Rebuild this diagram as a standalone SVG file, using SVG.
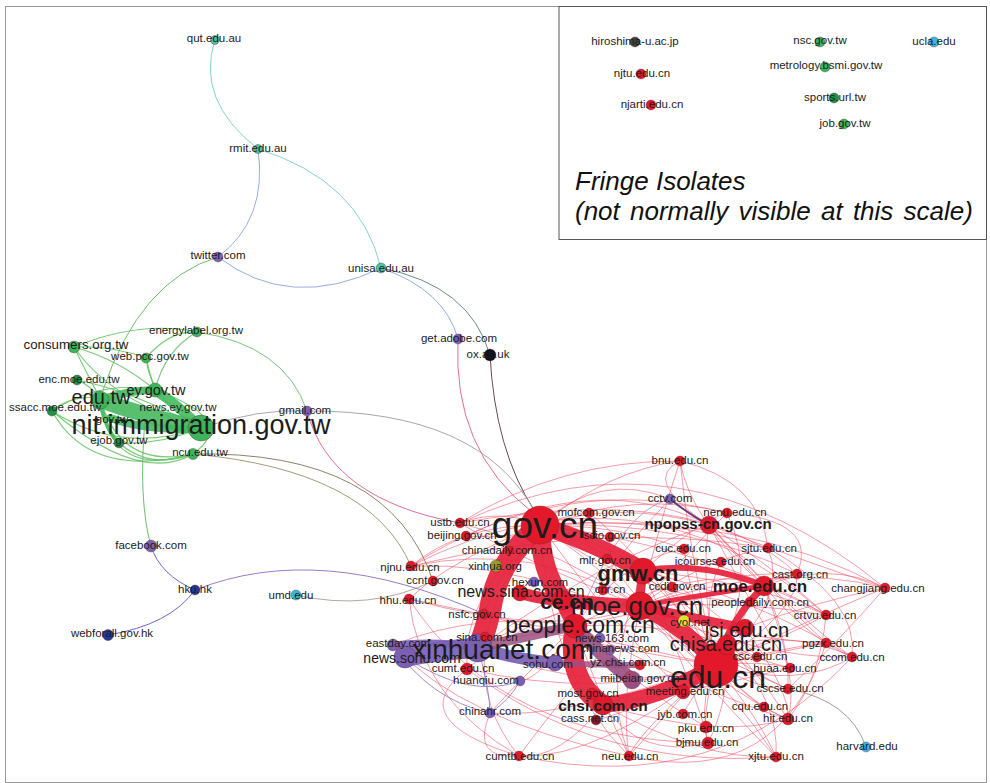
<svg xmlns="http://www.w3.org/2000/svg" width="990" height="783" viewBox="0 0 990 783">
<style>
text{font-family:"Liberation Sans",Arial,sans-serif;fill:#1c1c1c;text-anchor:middle;font-size:11.5px}
.b{font-weight:bold}
.it{font-style:italic;font-size:26px;text-anchor:start;fill:#111}
.e{fill:none;stroke-linecap:round}
.r{stroke:#ee4a62;stroke-opacity:.55;stroke-width:1}
.g{stroke:#62bf62;stroke-opacity:.85;stroke-width:1.1}
.tr{stroke:#e6213b;stroke-opacity:.92}
.nr{fill:#e3192b}
.ng{fill:#3cb55a}
.ndg{fill:#23904a}
.nt{fill:#4cc2a8}
.np{fill:#7b5fb5}
.nb{fill:#23399c}
.nc{fill:#3ab8dc}
circle{stroke:#5a2a2a;stroke-opacity:.45;stroke-width:.8}
</style>
<rect x="5.5" y="6.5" width="981" height="776" fill="#fff" stroke="#999" stroke-width="1"/>
<rect x="559" y="6.5" width="427.5" height="233" fill="none" stroke="#555" stroke-width="1"/>
<text class="it" x="575" y="190">Fringe Isolates</text>
<text class="it" x="575" y="220" word-spacing="3">(not normally visible at this scale)</text>

<g id="connectors">
<path class="e" stroke="#86d4c4" d="M215 40Q195 100 258 149"/>
<path class="e" stroke="#86d4c4" d="M258 149Q360 180 381 268"/>
<path class="e" stroke="#98aee2" d="M258 149Q268 220 218 257"/>
<path class="e" stroke="#98aee2" d="M218 257Q290 312 381 268"/>
<path class="e" stroke="#98aee2" d="M381 268Q445 290 458 339"/>
<path class="e" stroke="#6f8a8a" d="M381 268Q470 285 490 355"/>
<path class="e" stroke="#e07090" d="M458 339Q452 450 532 512"/>
<path class="e" stroke="#6a4a50" d="M490 355Q495 450 534 510"/>
<path class="e" stroke="#a8a8a8" d="M201 428Q260 408 307 411"/>
<path class="e" stroke="#a8a8a8" d="M307 411Q480 410 535 512"/>
<path class="e" stroke="#e07090" d="M307 411Q330 500 460 523"/>
<path class="e" stroke="#8c8468" d="M193 454Q390 450 433 581"/>
<path class="e" stroke="#a69a78" d="M193 454Q370 470 411 566"/>
<path class="e" stroke="#b0aaa0" d="M296 595Q370 612 433 581"/>
<path class="e" stroke="#9a7cc8" d="M195 590Q320 540 484 614"/>
<path class="e" stroke="#6a6ad0" d="M151 546Q160 575 195 590"/>
<path class="e" stroke="#6a6ad0" d="M195 590Q170 625 108 635"/>
<path class="e" stroke="#a89898" d="M866 747Q850 700 788 689"/>
<path class="e" stroke="#6cbf6c" d="M218 257Q140 280 103 390"/>
<path class="e" stroke="#6cbf6c" d="M145 420Q138 500 151 546"/>
<path class="e" stroke="#7cc47c" d="M197 332Q285 345 307 411"/>
<path class="e g" d="M74 347Q85 370 100 398"/>
<path class="e g" d="M74 347Q110 345 146 358"/>
<path class="e g" d="M74 347Q140 320 197 332"/>
<path class="e g" d="M74 347Q110 400 201 428"/>
<path class="e g" d="M74 347Q120 360 155 390"/>
<path class="e g" d="M146 358Q170 330 197 332"/>
<path class="e g" d="M146 358Q150 400 201 428"/>
<path class="e g" d="M146 358Q150 375 155 390"/>
<path class="e g" d="M197 332Q165 350 155 390"/>
<path class="e g" d="M77 380Q90 385 100 398"/>
<path class="e g" d="M77 380Q130 390 201 428"/>
<path class="e g" d="M52 411Q70 395 100 398"/>
<path class="e g" d="M52 411Q120 455 201 428"/>
<path class="e g" d="M52 411Q90 480 193 454"/>
<path class="e g" d="M52 411Q100 380 155 390"/>
<path class="e g" d="M119 443Q160 445 201 428"/>
<path class="e g" d="M119 443Q150 470 193 454"/>
<path class="e g" d="M193 454Q120 470 100 398"/>
<path class="e g" d="M193 454Q240 420 155 390"/>
<path class="e g" d="M100 398Q110 480 193 454"/>
<path class="e g" d="M52 411Q140 485 193 454"/>
<path class="e" stroke="#45b85e" stroke-opacity=".9" stroke-width="16" d="M100 400Q150 418 201 428"/>
<path class="e" stroke="#45b85e" stroke-opacity=".9" stroke-width="10" d="M155 390Q178 405 201 428"/>
<path class="e" stroke="#45b85e" stroke-opacity=".9" stroke-width="8" d="M100 400Q130 390 155 390"/>
<path class="e" stroke="#45b85e" stroke-opacity=".9" stroke-width="8" d="M110 418Q150 432 201 428"/>
<path class="e" stroke="#45b85e" stroke-opacity=".9" stroke-width="4" d="M100 400Q105 430 119 443"/>
<g class="e r">
<path d="M540 525Q610 470 680 461"/><path d="M540 525Q640 490 727 513"/><path d="M540 525Q620 500 709 525"/>
<path d="M540 525Q660 515 768 548"/><path d="M540 525Q620 525 684 549"/><path d="M540 525Q690 520 797 574"/>
<path d="M540 525Q740 510 885 588"/><path d="M540 525Q500 508 460 523"/><path d="M540 525Q460 525 411 566"/>
<path d="M540 525Q450 560 409 599"/><path d="M540 525Q500 570 484 614"/><path d="M540 525Q460 600 467 669"/>
<path d="M540 525Q440 660 519 756"/><path d="M540 525Q550 680 629 756"/><path d="M540 525Q710 590 788 719"/>
<path d="M540 525Q700 640 776 757"/><path d="M540 525Q690 570 757 657"/><path d="M540 525Q720 550 826 615"/>
<path d="M540 525Q580 530 610 537"/><path d="M540 525Q580 550 607 559"/><path d="M540 525Q600 610 683 692"/>
<path d="M540 525Q640 600 750 602"/><path d="M540 525Q600 470 670 499"/><path d="M540 525Q520 540 466 536"/>
<path d="M716 665Q690 560 680 461"/><path d="M716 665Q760 580 727 513"/><path d="M716 665Q790 600 768 548"/>
<path d="M716 665Q800 610 797 574"/><path d="M716 665Q830 610 885 588"/><path d="M716 665Q800 630 826 615"/>
<path d="M716 665Q790 650 826 643"/><path d="M716 665Q800 690 852 657"/><path d="M716 665Q760 660 790 668"/>
<path d="M716 665Q760 690 788 689"/><path d="M716 665Q750 700 764 707"/><path d="M716 665Q760 710 788 719"/>
<path d="M716 665Q760 720 776 757"/><path d="M716 665Q700 720 708 743"/><path d="M716 665Q700 700 706 727"/>
<path d="M716 665Q690 700 683 714"/><path d="M716 665Q640 730 629 756"/><path d="M716 665Q600 760 519 756"/>
<path d="M716 665Q640 710 596 720"/><path d="M716 665Q700 600 721 562"/><path d="M716 665Q690 600 684 549"/>
<path d="M716 665Q700 580 709 525"/><path d="M716 665Q680 600 672 587"/><path d="M716 665Q740 630 750 602"/>
<path d="M716 665Q560 560 411 566"/><path d="M716 665Q560 630 409 599"/><path d="M716 665Q560 640 484 614"/>
<path d="M716 665Q600 700 467 669"/><path d="M716 665Q560 720 490 713"/><path d="M716 665Q600 580 610 537"/>
<path d="M716 665Q650 560 589 513"/><path d="M716 665Q600 560 460 523"/>
<path d="M640 606Q660 520 680 461"/><path d="M640 606Q700 540 727 513"/><path d="M640 606Q720 570 797 574"/>
<path d="M640 606Q780 560 885 588"/><path d="M640 606Q740 600 826 615"/><path d="M640 606Q740 640 826 643"/>
<path d="M640 606Q760 660 852 657"/><path d="M640 606Q720 650 790 668"/><path d="M640 606Q720 690 788 719"/>
<path d="M640 606Q720 700 776 757"/><path d="M640 606Q620 700 629 756"/><path d="M640 606Q560 700 519 756"/>
<path d="M640 606Q520 560 460 523"/><path d="M640 606Q540 540 411 566"/><path d="M640 606Q560 590 467 669"/>
<path d="M640 606Q700 560 768 548"/><path d="M640 606Q560 640 409 599"/><path d="M640 606Q700 650 788 689"/>
<path d="M575 626Q610 560 670 499"/><path d="M575 626Q480 610 393 645"/><path d="M575 626Q520 640 485 637"/>
<path d="M575 626Q540 680 520 681"/><path d="M575 626Q520 680 490 713"/><path d="M575 626Q620 560 684 549"/>
<path d="M575 626Q680 620 757 657"/><path d="M575 626Q700 560 764 586"/><path d="M575 626Q640 690 706 727"/>
<path d="M575 626Q600 700 629 756"/><path d="M575 626Q700 600 797 574"/><path d="M575 626Q720 700 788 719"/>
<path d="M460 523Q680 420 885 588"/><path d="M411 566Q640 450 826 615"/><path d="M519 756Q720 800 852 657"/>
<path d="M629 756Q780 790 826 643"/><path d="M467 669Q400 720 519 756"/><path d="M409 599Q420 700 519 756"/>
<path d="M490 713Q470 760 519 756"/><path d="M393 645Q460 720 629 756"/><path d="M680 461Q760 480 768 548"/>
<path d="M680 461Q640 480 709 525"/><path d="M478 648Q600 560 709 525"/><path d="M478 648Q600 700 716 665"/>
<path d="M478 648Q560 600 640 606"/><path d="M411 566Q560 470 727 513"/><path d="M460 523Q560 460 680 461"/>
<path d="M409 599Q500 740 708 743"/><path d="M467 669Q600 770 776 757"/><path d="M852 657Q860 600 768 548"/>
<path d="M885 588Q840 640 788 689"/><path d="M826 615Q820 680 788 719"/><path d="M797 574Q820 520 727 513"/>
<path d="M709 525Q800 560 885 588"/><path d="M709 525Q790 580 826 615"/><path d="M709 525Q780 600 826 643"/>
<path d="M709 525Q800 620 852 657"/><path d="M709 525Q760 620 790 668"/><path d="M709 525Q740 560 764 586"/>
<path d="M764 586Q830 560 885 588"/><path d="M764 586Q800 600 826 615"/><path d="M764 586Q810 640 852 657"/>
<path d="M764 586Q790 640 788 689"/><path d="M764 586Q800 680 788 719"/><path d="M764 586Q690 520 680 461"/>
<path d="M643 571Q700 520 727 513"/><path d="M643 571Q750 580 826 615"/><path d="M643 571Q760 600 852 657"/>
<path d="M643 571Q720 660 788 689"/><path d="M643 571Q700 700 708 743"/><path d="M643 571Q600 680 629 756"/>
<path d="M603 705Q700 760 776 757"/><path d="M603 705Q640 760 708 743"/><path d="M603 705Q560 760 519 756"/>
<path d="M603 705Q700 690 790 668"/><path d="M603 705Q720 740 788 719"/><path d="M603 705Q750 650 826 643"/>
<path d="M466 536Q600 470 709 525"/><path d="M460 523Q700 480 797 574"/><path d="M411 566Q600 520 768 548"/>
<path d="M745 628Q820 600 885 588"/><path d="M727 645Q800 630 852 657"/><path d="M727 645Q780 700 776 757"/>
<path d="M727 645Q730 700 708 743"/><path d="M745 628Q790 690 788 719"/><path d="M727 645Q680 700 629 756"/>
</g>
<path class="e" stroke="#8a70c8" stroke-opacity=".8" d="M490 713Q510 700 520 681"/>
<path class="e" stroke="#8a70c8" stroke-opacity=".8" d="M393 645Q430 700 490 713"/>
<path class="e" stroke="#8a70c8" stroke-opacity=".8" d="M405 657Q470 700 520 681"/>
<path class="e" stroke="#8a70c8" stroke-opacity=".8" d="M478 648Q490 690 490 713"/>
<path class="e" stroke="#6a3a7a" stroke-width="2" d="M670 499Q690 515 709 525"/>
<path class="e" stroke="#a07ac0" stroke-opacity=".7" d="M670 499Q620 510 575 626"/>
<path class="e tr" stroke-width="22" d="M540 525Q500 560 492 600Q486 632 478 648"/>
<path class="e tr" stroke-width="20" d="M540 525Q540 570 562 600"/>
<path class="e tr" stroke-width="18" d="M545 527Q600 545 643 571"/>
<path class="e tr" stroke-width="14" d="M562 600Q600 605 640 606"/>
<path class="e tr" stroke-width="14" d="M575 626Q565 610 562 600"/>
<path class="e tr" stroke-width="16" d="M640 606Q690 630 716 665"/>
<path class="e tr" stroke-width="20" d="M575 626Q565 680 603 705"/>
<path class="e tr" stroke-width="16" d="M716 665Q660 700 603 705"/>
<path class="e tr" stroke-width="12" d="M716 665Q725 655 727 645"/>
<path class="e tr" stroke-width="7" d="M764 586Q730 620 716 665"/>
<path class="e tr" stroke-width="9" d="M640 606Q700 620 745 628"/>
<path class="e tr" stroke-width="9" d="M643 571Q640 590 640 606"/>
<path class="e tr" stroke-width="12" d="M520 593Q545 600 562 600"/>
<path class="e tr" stroke-width="6" d="M643 571Q700 560 764 586"/>
<path class="e tr" stroke-width="5" d="M640 606Q700 595 764 586"/>
<path class="e tr" stroke-width="8" d="M603 705Q600 690 592 694"/>
<path class="e" stroke="#7b5fb5" stroke-opacity=".92" stroke-width="20" d="M405 657Q440 650 478 648"/>
<path class="e" stroke="#7b5fb5" stroke-opacity=".92" stroke-width="7" d="M393 645Q440 640 478 648"/>
<path class="e" stroke="#7b5fb5" stroke-opacity=".92" stroke-width="12" d="M478 648Q520 660 555 663"/>
<path class="e" stroke="#9b4d80" stroke-opacity=".9" stroke-width="14" d="M575 626Q600 655 632 680"/>
<path class="e" stroke="#9b4d80" stroke-opacity=".85" stroke-width="10" d="M478 648Q530 635 575 626"/>
<path class="e" stroke="#9b4d80" stroke-opacity=".8" stroke-width="6" d="M555 663Q600 665 640 665"/>
</g>

<g id="n-gov-cn"><circle class="nr" cx="540" cy="525" r="19"/><text x="545" y="538" style="font-size:37px">gov.cn</text></g>
<g id="n-edu-cn"><circle class="nr" cx="716" cy="665" r="22"/><text x="718" y="688" style="font-size:32px">edu.cn</text></g>
<g id="n-xinhuanet"><circle class="np" cx="478" cy="648" r="14"/><text x="503" y="659" style="font-size:28px">xinhuanet.com</text></g>
<g id="n-moe-gov"><circle class="nr" cx="640" cy="606" r="14"/><text x="637" y="615" style="font-size:26px">moe.gov.cn</text></g>
<g id="n-people"><circle class="nr" cx="575" cy="626" r="12"/><text x="580" y="633" style="font-size:23px">people.com.cn</text></g>
<g id="n-gmw"><circle class="nr" cx="643" cy="571" r="13"/><text class="b" x="638" y="581" style="font-size:22px">gmw.cn</text></g>
<g id="n-ce"><circle class="nr" cx="562" cy="600" r="10"/><text class="b" x="567" y="609" style="font-size:21px">ce.cn</text></g>
<g id="n-jsj"><circle class="nr" cx="745" cy="628" r="9"/><text x="747" y="637" style="font-size:20px">jsj.edu.cn</text></g>
<g id="n-chisa"><circle class="nr" cx="727" cy="645" r="10"/><text x="726" y="651" style="font-size:20px">chisa.edu.cn</text></g>
<g id="n-moe-edu"><circle class="nr" cx="764" cy="586" r="10"/><text class="b" x="760" y="592" style="font-size:17px">moe.edu.cn</text></g>
<g id="n-npopss"><circle class="nr" cx="709" cy="525" r="9"/><text class="b" x="708" y="529" style="font-size:15px">npopss-cn.gov.cn</text></g>
<g id="n-news-sina"><circle class="nr" cx="520" cy="593" r="8"/><text x="521" y="597" style="font-size:16px">news.sina.com.cn</text></g>
<g id="n-news-sohu"><circle class="np" cx="405" cy="657" r="11"/><text x="412" y="663" style="font-size:14px">news.sohu.com</text></g>
<g id="n-chsi"><circle class="nr" cx="603" cy="705" r="10"/><text class="b" x="603" y="711" style="font-size:15.5px">chsi.com.cn</text></g>
<g id="n-nit"><circle class="ng" cx="201" cy="428" r="13"/><text x="201" y="434" style="font-size:27px">nit.immigration.gov.tw</text></g>
<g id="n-edu-tw"><circle class="ng" cx="100" cy="400" r="9"/><text x="101" y="404" style="font-size:20px">edu.tw</text></g>
<g id="n-ey"><circle class="ng" cx="155" cy="390" r="7"/><text x="156" y="395" style="font-size:14.5px">ey.gov.tw</text></g>
<g id="n-consumers"><circle class="ng" cx="74" cy="347" r="6"/><text x="76" y="349" style="font-size:13.3px">consumers.org.tw</text></g>

<g id="n-qut"><circle class="nt" cx="215" cy="40" r="4.5"/><text x="214" y="42">qut.edu.au</text></g>
<g id="n-rmit"><circle class="nt" cx="258" cy="149" r="4.5"/><text x="258" y="152">rmit.edu.au</text></g>
<g id="n-twitter"><circle class="np" cx="218" cy="257" r="5"/><text x="218" y="259">twitter.com</text></g>
<g id="n-unisa"><circle class="nt" cx="381" cy="268" r="5"/><text x="381" y="272">unisa.edu.au</text></g>
<g id="n-adobe"><circle class="np" cx="458" cy="339" r="5"/><text x="459" y="342">get.adobe.com</text></g>
<g id="n-ox"><circle cx="490" cy="355" r="6" fill="#101020"/><text x="488" y="358">ox.ac.uk</text></g>
<g id="n-energylabel"><circle class="ng" cx="197" cy="332" r="5"/><text x="196" y="334">energylabel.org.tw</text></g>
<g id="n-webpcc"><circle class="ng" cx="146" cy="358" r="5"/><text x="150" y="360">web.pcc.gov.tw</text></g>
<g id="n-encmoe"><circle class="ndg" cx="77" cy="380" r="5"/><text x="79" y="383">enc.moe.edu.tw</text></g>
<g id="n-ssacc"><circle class="ndg" cx="52" cy="411" r="5"/><text x="9" y="411" style="text-anchor:start">ssacc.moe.edu.tw</text></g>
<g id="n-newsey"><text x="178" y="411">news.ey.gov.tw</text></g>
<g id="n-govtw"><text x="112" y="423">gov.tw</text></g>
<g id="n-ejob"><circle class="ndg" cx="119" cy="443" r="5"/><text x="119" y="444">ejob.gov.tw</text></g>
<g id="n-ncu"><circle class="ng" cx="193" cy="454" r="5.5"/><text x="200" y="456">ncu.edu.tw</text></g>
<g id="n-gmail"><circle class="np" cx="307" cy="411" r="5"/><text x="305" y="414">gmail.com</text></g>
<g id="n-facebook"><circle class="np" cx="151" cy="546" r="6"/><text x="151" y="549">facebook.com</text></g>
<g id="n-hku"><circle class="nb" cx="195" cy="590" r="5"/><text x="195" y="593">hku.hk</text></g>
<g id="n-umd"><circle class="nc" cx="296" cy="595" r="5"/><text x="291" y="599">umd.edu</text></g>
<g id="n-webforall"><circle class="nb" cx="108" cy="635" r="5.5"/><text x="112" y="637">webforall.gov.hk</text></g>

<g id="n-bnu"><circle class="nr" cx="680" cy="461" r="5"/><text x="680" y="464">bnu.edu.cn</text></g>
<g id="n-cctv"><circle class="np" cx="670" cy="499" r="5"/><text x="670" y="502">cctv.com</text></g>
<g id="n-mofcom"><circle class="nr" cx="589" cy="513" r="5"/><text x="596" y="516">mofcom.gov.cn</text></g>
<g id="n-nenu"><circle class="nr" cx="727" cy="513" r="5"/><text x="735" y="516">nenu.edu.cn</text></g>
<g id="n-ustb"><circle class="nr" cx="460" cy="523" r="5"/><text x="460" y="526">ustb.edu.cn</text></g>
<g id="n-beijing"><circle class="nr" cx="466" cy="536" r="5"/><text x="462" y="539">beijing.gov.cn</text></g>
<g id="n-scio"><circle class="nr" cx="610" cy="537" r="5"/><text x="612" y="539">scio.gov.cn</text></g>
<g id="n-chinadaily"><circle class="nr" cx="510" cy="550" r="4"/><text x="507" y="554">chinadaily.com.cn</text></g>
<g id="n-cuc"><circle class="nr" cx="684" cy="549" r="5"/><text x="683" y="552">cuc.edu.cn</text></g>
<g id="n-sjtu"><circle class="nr" cx="768" cy="548" r="5"/><text x="769" y="552">sjtu.edu.cn</text></g>
<g id="n-mlr"><circle class="nr" cx="607" cy="559" r="5"/><text x="605" y="564">mlr.gov.cn</text></g>
<g id="n-icourses"><circle class="nr" cx="721" cy="562" r="5"/><text x="715" y="565">icourses.edu.cn</text></g>
<g id="n-xinhua"><circle cx="496" cy="566" r="6" fill="#9c9a2a"/><text x="495" y="570">xinhua.org</text></g>
<g id="n-njnu"><circle class="nr" cx="411" cy="566" r="5"/><text x="410" y="571">njnu.edu.cn</text></g>
<g id="n-cast"><circle class="nr" cx="797" cy="574" r="5"/><text x="800" y="578">cast.org.cn</text></g>
<g id="n-hexun"><circle class="np" cx="534" cy="582" r="5"/><text x="540" y="586">hexun.com</text></g>
<g id="n-ccnt"><circle class="nr" cx="433" cy="581" r="5"/><text x="435" y="584">ccnt.gov.cn</text></g>
<g id="n-ccdi"><circle class="nr" cx="672" cy="587" r="5"/><text x="677" y="590">ccdi.gov.cn</text></g>
<g id="n-changjiang"><circle class="nr" cx="885" cy="588" r="5"/><text x="878" y="592">changjiang.edu.cn</text></g>
<g id="n-cnr"><circle class="nr" cx="603" cy="590" r="5"/><text x="610" y="593">cnr.cn</text></g>
<g id="n-hhu"><circle class="nr" cx="409" cy="599" r="5"/><text x="408" y="604">hhu.edu.cn</text></g>
<g id="n-peopledaily"><circle class="nr" cx="750" cy="602" r="5"/><text x="760" y="606">peopledaily.com.cn</text></g>
<g id="n-nsfc"><circle class="nr" cx="484" cy="614" r="5"/><text x="477" y="618">nsfc.gov.cn</text></g>
<g id="n-cyol"><circle cx="684" cy="621" r="6" fill="#e2e02a"/><text x="690" y="626">cyol.net</text></g>
<g id="n-crtvu"><circle class="nr" cx="826" cy="615" r="5"/><text x="825" y="619">crtvu.edu.cn</text></g>
<g id="n-sina"><circle class="nr" cx="485" cy="637" r="5"/><text x="487" y="641">sina.com.cn</text></g>
<g id="n-news163"><circle class="np" cx="600" cy="638" r="5"/><text x="612" y="642">news.163.com</text></g>
<g id="n-pgzx"><circle class="nr" cx="826" cy="643" r="5"/><text x="833" y="647">pgzx.edu.cn</text></g>
<g id="n-eastday"><circle class="np" cx="393" cy="645" r="6"/><text x="398" y="647">eastday.com</text></g>
<g id="n-chinanews"><circle class="np" cx="610" cy="650" r="5"/><text x="620" y="652">chinanews.com</text></g>
<g id="n-csc"><circle class="nr" cx="757" cy="657" r="5"/><text x="760" y="660">csc.edu.cn</text></g>
<g id="n-ccom"><circle class="nr" cx="852" cy="657" r="5"/><text x="852" y="661">ccom.edu.cn</text></g>
<g id="n-yzchsi"><circle class="nr" cx="640" cy="665" r="5"/><text x="628" y="666">yz.chsi.com.cn</text></g>
<g id="n-sohu"><circle class="np" cx="555" cy="663" r="8"/><text x="548" y="668">sohu.com</text></g>
<g id="n-cumt"><circle class="nr" cx="467" cy="669" r="6"/><text x="463" y="672">cumt.edu.cn</text></g>
<g id="n-buaa"><circle class="nr" cx="790" cy="668" r="5"/><text x="785" y="672">buaa.edu.cn</text></g>
<g id="n-miibeian"><circle cx="632" cy="680" r="9" fill="#9b4d80"/><text x="640" y="682">miibeian.gov.cn</text></g>
<g id="n-huanqiu"><circle class="np" cx="520" cy="681" r="5"/><text x="486" y="684">huanqiu.com</text></g>
<g id="n-cscse"><circle class="nr" cx="788" cy="689" r="5"/><text x="790" y="692">cscse.edu.cn</text></g>
<g id="n-meeting"><circle class="nr" cx="683" cy="692" r="7"/><text x="685" y="695">meeting.edu.cn</text></g>
<g id="n-most"><circle class="nr" cx="592" cy="694" r="6"/><text x="588" y="697">most.gov.cn</text></g>
<g id="n-cqu"><circle class="nr" cx="764" cy="707" r="5"/><text x="760" y="710">cqu.edu.cn</text></g>
<g id="n-chinahr"><circle class="np" cx="490" cy="713" r="5"/><text x="490" y="715">chinahr.com</text></g>
<g id="n-jyb"><circle class="nr" cx="683" cy="714" r="5"/><text x="685" y="718">jyb.com.cn</text></g>
<g id="n-cass"><circle cx="596" cy="720" r="5" fill="#8a1a2a"/><text x="590" y="722">cass.net.cn</text></g>
<g id="n-hit"><circle class="nr" cx="788" cy="719" r="6"/><text x="788" y="722">hit.edu.cn</text></g>
<g id="n-pku"><circle class="nr" cx="706" cy="727" r="6"/><text x="706" y="732">pku.edu.cn</text></g>
<g id="n-bjmu"><circle class="nr" cx="708" cy="743" r="6"/><text x="707" y="746">bjmu.edu.cn</text></g>
<g id="n-cumtb"><circle class="nr" cx="519" cy="756" r="5"/><text x="520" y="760">cumtb.edu.cn</text></g>
<g id="n-neu"><circle class="nr" cx="629" cy="756" r="5"/><text x="630" y="760">neu.edu.cn</text></g>
<g id="n-xjtu"><circle class="nr" cx="776" cy="757" r="5"/><text x="776" y="760">xjtu.edu.cn</text></g>
<g id="n-harvard"><circle class="nc" cx="866" cy="747" r="5"/><text x="867" y="750">harvard.edu</text></g>

<g id="n-hiroshima"><circle cx="635" cy="42" r="5" fill="#444"/><text x="635" y="45">hiroshima-u.ac.jp</text></g>
<g id="n-njtu"><circle class="nr" cx="641" cy="74" r="5"/><text x="642" y="77">njtu.edu.cn</text></g>
<g id="n-njarti"><circle class="nr" cx="651" cy="105" r="5"/><text x="652" y="108">njarti.edu.cn</text></g>
<g id="n-nsc"><circle class="ng" cx="820" cy="42" r="5"/><text x="820" y="44">nsc.gov.tw</text></g>
<g id="n-metrology"><circle class="ng" cx="825" cy="67" r="5"/><text x="826" y="69">metrology.bsmi.gov.tw</text></g>
<g id="n-sports"><circle class="ndg" cx="834" cy="98" r="5"/><text x="835" y="101">sports.url.tw</text></g>
<g id="n-job"><circle class="ng" cx="844" cy="124" r="5"/><text x="845" y="127">job.gov.tw</text></g>
<g id="n-ucla"><circle class="nc" cx="934" cy="42" r="5"/><text x="934" y="45">ucla.edu</text></g>
</svg>
